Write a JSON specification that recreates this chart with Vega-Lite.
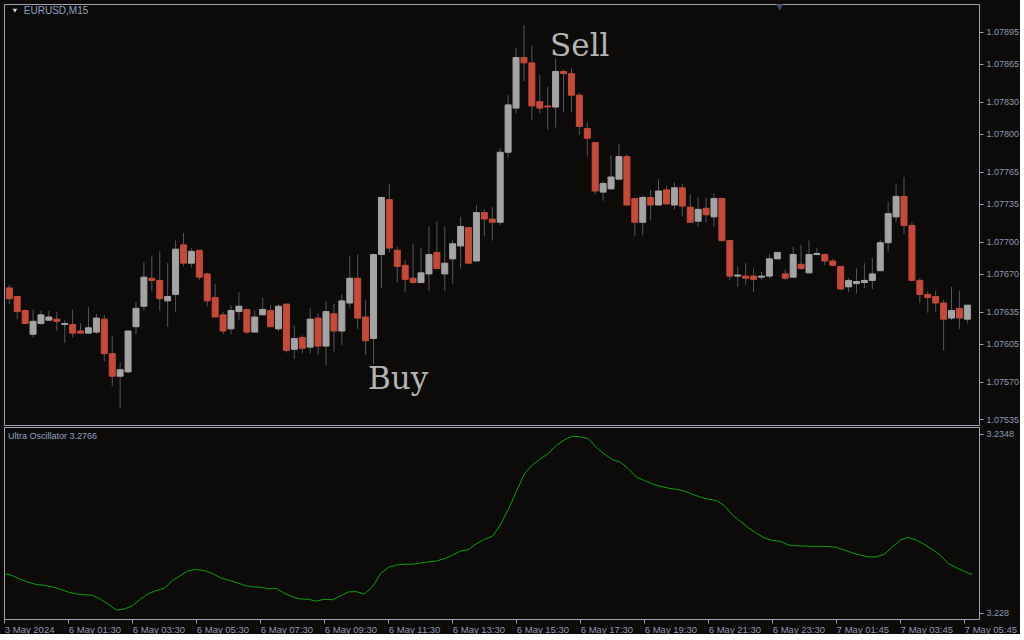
{
  "$schema": "https://vega.github.io/schema/vega-lite/v6.json",
  "background": "#0d0b09",
  "padding": {"left": 3, "top": 3, "right": 0, "bottom": 0},
  "spacing": 0,
  "config": {
    "view": {"stroke": "#9ea3b5", "strokeWidth": 1},
    "axis": {"labelFont": "Liberation Sans", "labelFontSize": 9, "labelColor": "#8b98b6", "tickColor": "#9ea3b5", "tickSize": 4, "domain": false, "grid": false, "title": null, "labelOverlap": false}
  },
  "datasets": {
    "bars": [
      {"k":0,"o":1.07657,"h":1.07660,"l":1.07642,"c":1.07647,"u":3.22949},
      {"k":1,"o":1.07649,"h":1.07649,"l":1.07628,"c":1.07635,"u":3.22941},
      {"k":2,"o":1.07636,"h":1.07637,"l":1.07624,"c":1.07624,"u":3.22927},
      {"k":3,"o":1.07614,"h":1.07637,"l":1.07611,"c":1.07626,"u":3.22916},
      {"k":4,"o":1.07624,"h":1.07636,"l":1.07623,"c":1.07632,"u":3.22907},
      {"k":5,"o":1.07627,"h":1.07636,"l":1.07627,"c":1.07630,"u":3.22904},
      {"k":6,"o":1.07628,"h":1.07635,"l":1.07617,"c":1.07626,"u":3.22898},
      {"k":7,"o":1.07623,"h":1.07627,"l":1.07606,"c":1.07624,"u":3.22889},
      {"k":8,"o":1.07623,"h":1.07637,"l":1.07611,"c":1.07615,"u":3.22878},
      {"k":9,"o":1.07617,"h":1.07624,"l":1.07615,"c":1.07615,"u":3.22871},
      {"k":10,"o":1.07615,"h":1.07639,"l":1.07615,"c":1.07620,"u":3.22868},
      {"k":11,"o":1.07616,"h":1.07633,"l":1.07614,"c":1.07629,"u":3.22866},
      {"k":12,"o":1.07628,"h":1.07632,"l":1.07589,"c":1.07596,"u":3.22852},
      {"k":13,"o":1.07596,"h":1.07612,"l":1.07566,"c":1.07575,"u":3.22832},
      {"k":14,"o":1.07575,"h":1.07588,"l":1.07545,"c":1.07581,"u":3.22810},
      {"k":15,"o":1.07579,"h":1.07617,"l":1.07578,"c":1.07617,"u":3.22814},
      {"k":16,"o":1.07621,"h":1.07644,"l":1.07614,"c":1.07638,"u":3.22826},
      {"k":17,"o":1.07640,"h":1.07681,"l":1.07636,"c":1.07667,"u":3.22852},
      {"k":18,"o":1.07666,"h":1.07687,"l":1.07654,"c":1.07664,"u":3.22872},
      {"k":19,"o":1.07664,"h":1.07691,"l":1.07636,"c":1.07647,"u":3.22884},
      {"k":20,"o":1.07645,"h":1.07680,"l":1.07621,"c":1.07649,"u":3.22893},
      {"k":21,"o":1.07651,"h":1.07701,"l":1.07635,"c":1.07693,"u":3.22921},
      {"k":22,"o":1.07697,"h":1.07708,"l":1.07677,"c":1.07680,"u":3.22941},
      {"k":23,"o":1.07680,"h":1.07694,"l":1.07676,"c":1.07691,"u":3.22959},
      {"k":24,"o":1.07692,"h":1.07692,"l":1.07664,"c":1.07667,"u":3.22964},
      {"k":25,"o":1.07670,"h":1.07671,"l":1.07640,"c":1.07645,"u":3.22960},
      {"k":26,"o":1.07648,"h":1.07661,"l":1.07630,"c":1.07630,"u":3.22949},
      {"k":27,"o":1.07632,"h":1.07635,"l":1.07614,"c":1.07617,"u":3.22933},
      {"k":28,"o":1.07619,"h":1.07641,"l":1.07614,"c":1.07636,"u":3.22924},
      {"k":29,"o":1.07635,"h":1.07653,"l":1.07627,"c":1.07640,"u":3.22915},
      {"k":30,"o":1.07637,"h":1.07637,"l":1.07614,"c":1.07616,"u":3.22904},
      {"k":31,"o":1.07616,"h":1.07636,"l":1.07616,"c":1.07630,"u":3.22898},
      {"k":32,"o":1.07632,"h":1.07648,"l":1.07632,"c":1.07637,"u":3.22897},
      {"k":33,"o":1.07636,"h":1.07641,"l":1.07621,"c":1.07621,"u":3.22891},
      {"k":34,"o":1.07619,"h":1.07642,"l":1.07617,"c":1.07640,"u":3.22892},
      {"k":35,"o":1.07642,"h":1.07642,"l":1.07597,"c":1.07599,"u":3.22874},
      {"k":36,"o":1.07600,"h":1.07622,"l":1.07591,"c":1.07610,"u":3.22861},
      {"k":37,"o":1.07611,"h":1.07613,"l":1.07596,"c":1.07601,"u":3.22852},
      {"k":38,"o":1.07602,"h":1.07638,"l":1.07596,"c":1.07628,"u":3.22851},
      {"k":39,"o":1.07629,"h":1.07633,"l":1.07595,"c":1.07603,"u":3.22844},
      {"k":40,"o":1.07603,"h":1.07645,"l":1.07585,"c":1.07635,"u":3.22851},
      {"k":41,"o":1.07633,"h":1.07642,"l":1.07597,"c":1.07617,"u":3.22849},
      {"k":42,"o":1.07617,"h":1.07651,"l":1.07604,"c":1.07645,"u":3.22863},
      {"k":43,"o":1.07643,"h":1.07687,"l":1.07639,"c":1.07666,"u":3.22879},
      {"k":44,"o":1.07666,"h":1.07688,"l":1.07619,"c":1.07629,"u":3.22880},
      {"k":45,"o":1.07630,"h":1.07646,"l":1.07595,"c":1.07608,"u":3.22871},
      {"k":46,"o":1.07610,"h":1.07689,"l":1.07586,"c":1.07688,"u":3.22897},
      {"k":47,"o":1.07688,"h":1.07742,"l":1.07657,"c":1.07741,"u":3.22947},
      {"k":48,"o":1.07739,"h":1.07754,"l":1.07690,"c":1.07694,"u":3.22972},
      {"k":49,"o":1.07692,"h":1.07695,"l":1.07662,"c":1.07677,"u":3.22981},
      {"k":50,"o":1.07678,"h":1.07683,"l":1.07653,"c":1.07665,"u":3.22984},
      {"k":51,"o":1.07666,"h":1.07698,"l":1.07661,"c":1.07662,"u":3.22984},
      {"k":52,"o":1.07662,"h":1.07694,"l":1.07662,"c":1.07671,"u":3.22988},
      {"k":53,"o":1.07670,"h":1.07714,"l":1.07654,"c":1.07688,"u":3.22993},
      {"k":54,"o":1.07690,"h":1.07719,"l":1.07675,"c":1.07675,"u":3.22996},
      {"k":55,"o":1.07670,"h":1.07714,"l":1.07654,"c":1.07680,"u":3.23005},
      {"k":56,"o":1.07684,"h":1.07702,"l":1.07661,"c":1.07698,"u":3.23018},
      {"k":57,"o":1.07696,"h":1.07723,"l":1.07675,"c":1.07714,"u":3.23034},
      {"k":58,"o":1.07713,"h":1.07713,"l":1.07679,"c":1.07680,"u":3.23039},
      {"k":59,"o":1.07682,"h":1.07734,"l":1.07682,"c":1.07727,"u":3.23061},
      {"k":60,"o":1.07727,"h":1.07730,"l":1.07705,"c":1.07721,"u":3.23078},
      {"k":61,"o":1.07721,"h":1.07732,"l":1.07701,"c":1.07718,"u":3.23090},
      {"k":62,"o":1.07718,"h":1.07787,"l":1.07715,"c":1.07783,"u":3.23132},
      {"k":63,"o":1.07783,"h":1.07836,"l":1.07778,"c":1.07827,"u":3.23193},
      {"k":64,"o":1.07824,"h":1.07880,"l":1.07819,"c":1.07871,"u":3.23259},
      {"k":65,"o":1.07871,"h":1.07901,"l":1.07849,"c":1.07866,"u":3.23327},
      {"k":66,"o":1.07866,"h":1.07882,"l":1.07813,"c":1.07826,"u":3.23361},
      {"k":67,"o":1.07830,"h":1.07855,"l":1.07819,"c":1.07824,"u":3.23384},
      {"k":68,"o":1.07826,"h":1.07844,"l":1.07804,"c":1.07825,"u":3.23404},
      {"k":69,"o":1.07825,"h":1.07870,"l":1.07806,"c":1.07858,"u":3.23435},
      {"k":70,"o":1.07858,"h":1.07860,"l":1.07820,"c":1.07856,"u":3.23456},
      {"k":71,"o":1.07856,"h":1.07861,"l":1.07820,"c":1.07836,"u":3.23470},
      {"k":72,"o":1.07836,"h":1.07838,"l":1.07799,"c":1.07807,"u":3.23468},
      {"k":73,"o":1.07805,"h":1.07811,"l":1.07779,"c":1.07796,"u":3.23461},
      {"k":74,"o":1.07792,"h":1.07792,"l":1.07744,"c":1.07747,"u":3.23428},
      {"k":75,"o":1.07746,"h":1.07756,"l":1.07738,"c":1.07754,"u":3.23403},
      {"k":76,"o":1.07749,"h":1.07780,"l":1.07748,"c":1.07760,"u":3.23381},
      {"k":77,"o":1.07758,"h":1.07791,"l":1.07758,"c":1.07779,"u":3.23372},
      {"k":78,"o":1.07779,"h":1.07781,"l":1.07734,"c":1.07734,"u":3.23347},
      {"k":79,"o":1.07740,"h":1.07740,"l":1.07705,"c":1.07718,"u":3.23315},
      {"k":80,"o":1.07718,"h":1.07743,"l":1.07706,"c":1.07741,"u":3.23302},
      {"k":81,"o":1.07741,"h":1.07748,"l":1.07720,"c":1.07734,"u":3.23289},
      {"k":82,"o":1.07734,"h":1.07758,"l":1.07734,"c":1.07747,"u":3.23280},
      {"k":83,"o":1.07748,"h":1.07752,"l":1.07735,"c":1.07735,"u":3.23273},
      {"k":84,"o":1.07734,"h":1.07755,"l":1.07730,"c":1.07750,"u":3.23268},
      {"k":85,"o":1.07750,"h":1.07754,"l":1.07723,"c":1.07733,"u":3.23262},
      {"k":86,"o":1.07732,"h":1.07744,"l":1.07718,"c":1.07718,"u":3.23250},
      {"k":87,"o":1.07719,"h":1.07741,"l":1.07714,"c":1.07730,"u":3.23239},
      {"k":88,"o":1.07731,"h":1.07741,"l":1.07718,"c":1.07725,"u":3.23231},
      {"k":89,"o":1.07723,"h":1.07745,"l":1.07714,"c":1.07740,"u":3.23226},
      {"k":90,"o":1.07740,"h":1.07741,"l":1.07700,"c":1.07701,"u":3.23207},
      {"k":91,"o":1.07701,"h":1.07702,"l":1.07664,"c":1.07668,"u":3.23172},
      {"k":92,"o":1.07668,"h":1.07677,"l":1.07658,"c":1.07669,"u":3.23147},
      {"k":93,"o":1.07668,"h":1.07680,"l":1.07660,"c":1.07666,"u":3.23123},
      {"k":94,"o":1.07668,"h":1.07675,"l":1.07653,"c":1.07665,"u":3.23102},
      {"k":95,"o":1.07667,"h":1.07672,"l":1.07664,"c":1.07668,"u":3.23084},
      {"k":96,"o":1.07668,"h":1.07688,"l":1.07666,"c":1.07684,"u":3.23074},
      {"k":97,"o":1.07684,"h":1.07690,"l":1.07684,"c":1.07690,"u":3.23071},
      {"k":98,"o":1.07670,"h":1.07674,"l":1.07664,"c":1.07666,"u":3.23057},
      {"k":99,"o":1.07667,"h":1.07695,"l":1.07667,"c":1.07688,"u":3.23054},
      {"k":100,"o":1.07679,"h":1.07697,"l":1.07674,"c":1.07675,"u":3.23053},
      {"k":101,"o":1.07671,"h":1.07701,"l":1.07671,"c":1.07688,"u":3.23052},
      {"k":102,"o":1.07688,"h":1.07694,"l":1.07688,"c":1.07689,"u":3.23052},
      {"k":103,"o":1.07688,"h":1.07689,"l":1.07678,"c":1.07682,"u":3.23051},
      {"k":104,"o":1.07682,"h":1.07684,"l":1.07677,"c":1.07678,"u":3.23048},
      {"k":105,"o":1.07677,"h":1.07677,"l":1.07655,"c":1.07656,"u":3.23038},
      {"k":106,"o":1.07658,"h":1.07666,"l":1.07653,"c":1.07664,"u":3.23027},
      {"k":107,"o":1.07661,"h":1.07675,"l":1.07652,"c":1.07663,"u":3.23019},
      {"k":108,"o":1.07662,"h":1.07680,"l":1.07657,"c":1.07664,"u":3.23012},
      {"k":109,"o":1.07664,"h":1.07685,"l":1.07656,"c":1.07670,"u":3.23012},
      {"k":110,"o":1.07673,"h":1.07702,"l":1.07673,"c":1.07699,"u":3.23022},
      {"k":111,"o":1.07699,"h":1.07737,"l":1.07691,"c":1.07726,"u":3.23049},
      {"k":112,"o":1.07723,"h":1.07753,"l":1.07718,"c":1.07742,"u":3.23076},
      {"k":113,"o":1.07742,"h":1.07760,"l":1.07707,"c":1.07715,"u":3.23086},
      {"k":114,"o":1.07715,"h":1.07718,"l":1.07664,"c":1.07664,"u":3.23076},
      {"k":115,"o":1.07664,"h":1.07666,"l":1.07643,"c":1.07651,"u":3.23059},
      {"k":116,"o":1.07651,"h":1.07654,"l":1.07634,"c":1.07648,"u":3.23040},
      {"k":117,"o":1.07649,"h":1.07654,"l":1.07635,"c":1.07643,"u":3.23018},
      {"k":118,"o":1.07643,"h":1.07646,"l":1.07599,"c":1.07628,"u":3.22987},
      {"k":119,"o":1.07629,"h":1.07658,"l":1.07627,"c":1.07636,"u":3.22971},
      {"k":120,"o":1.07638,"h":1.07654,"l":1.07619,"c":1.07629,"u":3.22957},
      {"k":121,"o":1.07628,"h":1.07641,"l":1.07624,"c":1.07641,"u":3.22945}
    ],
    "notes": [
      {"t":"Sell","k":68.3,"p":1.078724},
      {"t":"Buy","k":45.3,"p":1.075632}
    ],
    "labels": [
      {"t":"EURUSD,M15","k":1.84,"p":1.079142}
    ],
    "marks": [
      {"k":0.71,"p":1.079145,"s":22,"col":"#d0d0d0"},
      {"k":97.3,"p":1.079175,"s":55,"col":"#3a4472"}
    ],
    "osclabel": [
      {"t":"Ultra Oscillator 3.2766","k":0.46,"u":3.23471}
    ]
  },
  "vconcat": [
    {
      "width": 975,
      "height": 421,
      "layer": [
        {
          "data": {"name": "bars"},
          "mark": {"type": "rule", "color": "#55555d", "strokeWidth": 1, "clip": true},
          "encoding": {
            "x": {"field": "k", "type": "quantitative", "scale": {"domain": [-0.0375, 121.84], "nice": false, "zero": false}, "axis": null},
            "y": {"field": "l", "type": "quantitative", "scale": {"domain": [1.075297, 1.079207], "nice": false, "zero": false},
                  "axis": {"orient": "right", "values": [1.07535,1.0757,1.07605,1.07635,1.0767,1.077,1.07735,1.07765,1.078,1.0783,1.07865,1.07895], "tickCount": 40, "format": ".5f", "labelPadding": 3, "labelOverlap": false, "labelBound": false}},
            "y2": {"field": "h"}
          }
        },
        {
          "data": {"name": "bars"},
          "mark": {"type": "bar", "size": 6, "strokeWidth": 1, "clip": true},
          "encoding": {
            "x": {"field": "k", "type": "quantitative", "scale": {"domain": [-0.0375, 121.84], "nice": false, "zero": false}, "axis": null},
            "y": {"field": "o", "type": "quantitative", "scale": {"domain": [1.075297, 1.079207], "nice": false, "zero": false}},
            "y2": {"field": "c"},
            "fill": {"condition": {"test": "datum.c >= datum.o", "value": "#a4a4a4"}, "value": "#c44a3b"},
            "stroke": {"condition": {"test": "datum.c >= datum.o", "value": "#a4a4a4"}, "value": "#c44a3b"}
          }
        },
        {
          "data": {"name": "notes"},
          "mark": {"type": "text", "font": "DejaVu Serif", "fontSize": 31, "color": "#b4b4b4", "align": "left", "baseline": "alphabetic"},
          "encoding": {
            "x": {"field": "k", "type": "quantitative", "scale": {"domain": [-0.0375, 121.84], "nice": false, "zero": false}, "axis": null},
            "y": {"field": "p", "type": "quantitative", "scale": {"domain": [1.075297, 1.079207], "nice": false, "zero": false}},
            "text": {"field": "t"}
          }
        },
        {
          "data": {"name": "labels"},
          "mark": {"type": "text", "font": "Liberation Sans", "fontSize": 10, "color": "#8fa0c4", "align": "left", "baseline": "middle"},
          "encoding": {
            "x": {"field": "k", "type": "quantitative", "scale": {"domain": [-0.0375, 121.84], "nice": false, "zero": false}, "axis": null},
            "y": {"field": "p", "type": "quantitative", "scale": {"domain": [1.075297, 1.079207], "nice": false, "zero": false}},
            "text": {"field": "t"}
          }
        },
        {
          "data": {"name": "marks"},
          "mark": {"type": "point", "shape": "triangle-down", "filled": true, "opacity": 1, "clip": true},
          "encoding": {
            "x": {"field": "k", "type": "quantitative", "scale": {"domain": [-0.0375, 121.84], "nice": false, "zero": false}, "axis": null},
            "y": {"field": "p", "type": "quantitative", "scale": {"domain": [1.075297, 1.079207], "nice": false, "zero": false}},
            "size": {"field": "s", "type": "quantitative", "scale": null, "legend": null},
            "color": {"field": "col", "type": "nominal", "scale": null, "legend": null}
          }
        }
      ]
    },
    {
      "width": 975,
      "height": 192,
      "layer": [
        {
          "data": {"name": "bars"},
          "mark": {"type": "line", "color": "#10a010", "strokeWidth": 1, "clip": true},
          "encoding": {
            "x": {"field": "k", "type": "quantitative", "scale": {"domain": [-0.0375, 121.84], "nice": false, "zero": false},
                  "axis": {"orient": "bottom", "values": [0,8,16,24,32,40,48,56,64,72,80,88,96,104,112,120], "tickCount": 40, "labelFontSize": 9.5, "labelAlign": "left", "labelBaseline": "top", "labelPadding": 1, "labelFlush": false, "labelOverlap": false,
                           "labelExpr": "['3 May 2024','6 May 01:30','6 May 03:30','6 May 05:30','6 May 07:30','6 May 09:30','6 May 11:30','6 May 13:30','6 May 15:30','6 May 17:30','6 May 19:30','6 May 21:30','6 May 23:30','7 May 01:45','7 May 03:45','7 May 05:45'][round(datum.value/8)]"}},
            "y": {"field": "u", "type": "quantitative", "scale": {"domain": [3.227761, 3.23505], "nice": false, "zero": false},
                  "axis": {"orient": "right", "values": [3.228, 3.2348], "labelExpr": "format(datum.value, '.4~f')", "labelPadding": 3, "labelOverlap": false}}
          }
        },
        {
          "data": {"name": "osclabel"},
          "mark": {"type": "text", "font": "Liberation Sans", "fontSize": 9, "color": "#8fa0c4", "align": "left", "baseline": "middle"},
          "encoding": {
            "x": {"field": "k", "type": "quantitative", "scale": {"domain": [-0.0375, 121.84], "nice": false, "zero": false}},
            "y": {"field": "u", "type": "quantitative", "scale": {"domain": [3.227761, 3.23505], "nice": false, "zero": false}},
            "text": {"field": "t"}
          }
        }
      ]
    }
  ]
}
